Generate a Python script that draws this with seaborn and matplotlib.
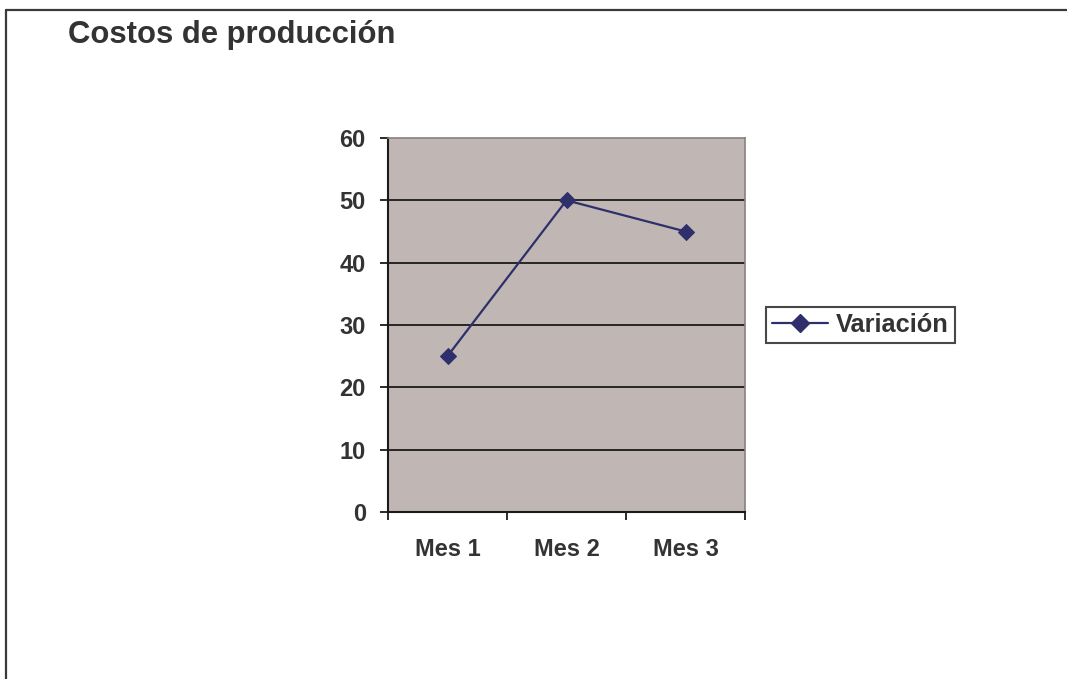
import matplotlib
matplotlib.use("Agg")
import matplotlib.pyplot as plt
from matplotlib.lines import Line2D
import seaborn as sns
import pandas as pd

# Data
meses = ["Mes 1", "Mes 2", "Mes 3"]
variacion = [25, 50, 45]
y_ticks = [0, 10, 20, 30, 40, 50, 60]

sns.set_theme(style="white")
plt.rcParams["font.family"] = ["Liberation Sans", "DejaVu Sans"]
plt.rcParams["font.weight"] = "bold"

TEXT = "#333333"
LINE = "#2F2F6B"
FACE = "#C0B7B4"

df = pd.DataFrame({"Mes": meses, "Variación": variacion})

fig = plt.figure(figsize=(10.67, 6.79), dpi=100)
fig.patch.set_facecolor("white")
ax = fig.add_axes([388 / 1067, 1 - 512 / 679, (745 - 388) / 1067, (512 - 138) / 679])
ax.set_facecolor(FACE)

sns.lineplot(data=df, x="Mes", y="Variación", ax=ax, color=LINE, linewidth=1.6,
             marker="D", markersize=8, markeredgecolor=LINE, sort=False, legend=False)

ax.set_xlim(-0.5, 2.5)
ax.set_ylim(0, 60)
ax.set_yticks(y_ticks)
ax.set_yticklabels([str(v) for v in y_ticks], fontsize=17, fontweight="bold", color=TEXT)
for v in y_ticks[1:-1]:
    ax.axhline(v, color="#1a1a1a", linewidth=1.3, zorder=1)

# Category boundaries carry the tick marks; labels sit at the centres
ax.set_xticks([-0.5, 0.5, 1.5, 2.5])
ax.set_xticklabels([])
ax.set_xticks([0, 1, 2], minor=True)
ax.set_xticklabels(meses, minor=True, fontsize=17, fontweight="bold", color=TEXT)
ax.tick_params(axis="x", which="major", direction="out", length=6, width=1.3,
               color="#1a1a1a", bottom=True)
ax.tick_params(axis="x", which="minor", length=0, pad=19)
ax.tick_params(axis="y", direction="out", length=6, width=1.3, color="#1a1a1a",
               left=True, pad=10)
ax.set_xlabel("")
ax.set_ylabel("")

for side in ("left", "bottom"):
    ax.spines[side].set_color("#1a1a1a")
    ax.spines[side].set_linewidth(1.5)
for side in ("top", "right"):
    ax.spines[side].set_visible(True)
    ax.spines[side].set_color("#8a8080")
    ax.spines[side].set_linewidth(1.2)

handle = Line2D([], [], color=LINE, linewidth=1.6, marker="D", markersize=9)
leg = fig.legend([handle], ["Variación"], loc="center left",
                 bbox_to_anchor=(766 / 1067, 1 - 325 / 679),
                 frameon=True, fancybox=False, shadow=False,
                 prop={"size": 18.3, "weight": "bold"}, handlelength=2.2,
                 handletextpad=0.3, borderpad=0.25, borderaxespad=0)
leg.get_frame().set_edgecolor("#1a1a1a")
leg.get_frame().set_linewidth(1.5)
for t in leg.get_texts():
    t.set_color(TEXT)

fig.text(68 / 1067, 1 - 43 / 679, "Costos de producción", fontsize=22.3,
         fontweight="bold", color=TEXT, ha="left", va="baseline")

# Chart border on the left and top edges
fig.add_artist(Line2D([6 / 1067, 6 / 1067], [0, 1 - 10 / 679],
                      transform=fig.transFigure, color="#3a3a3a", linewidth=1.6))
fig.add_artist(Line2D([6 / 1067, 1], [1 - 10 / 679, 1 - 10 / 679],
                      transform=fig.transFigure, color="#3a3a3a", linewidth=1.6))

fig.savefig("out.png", dpi=100)
